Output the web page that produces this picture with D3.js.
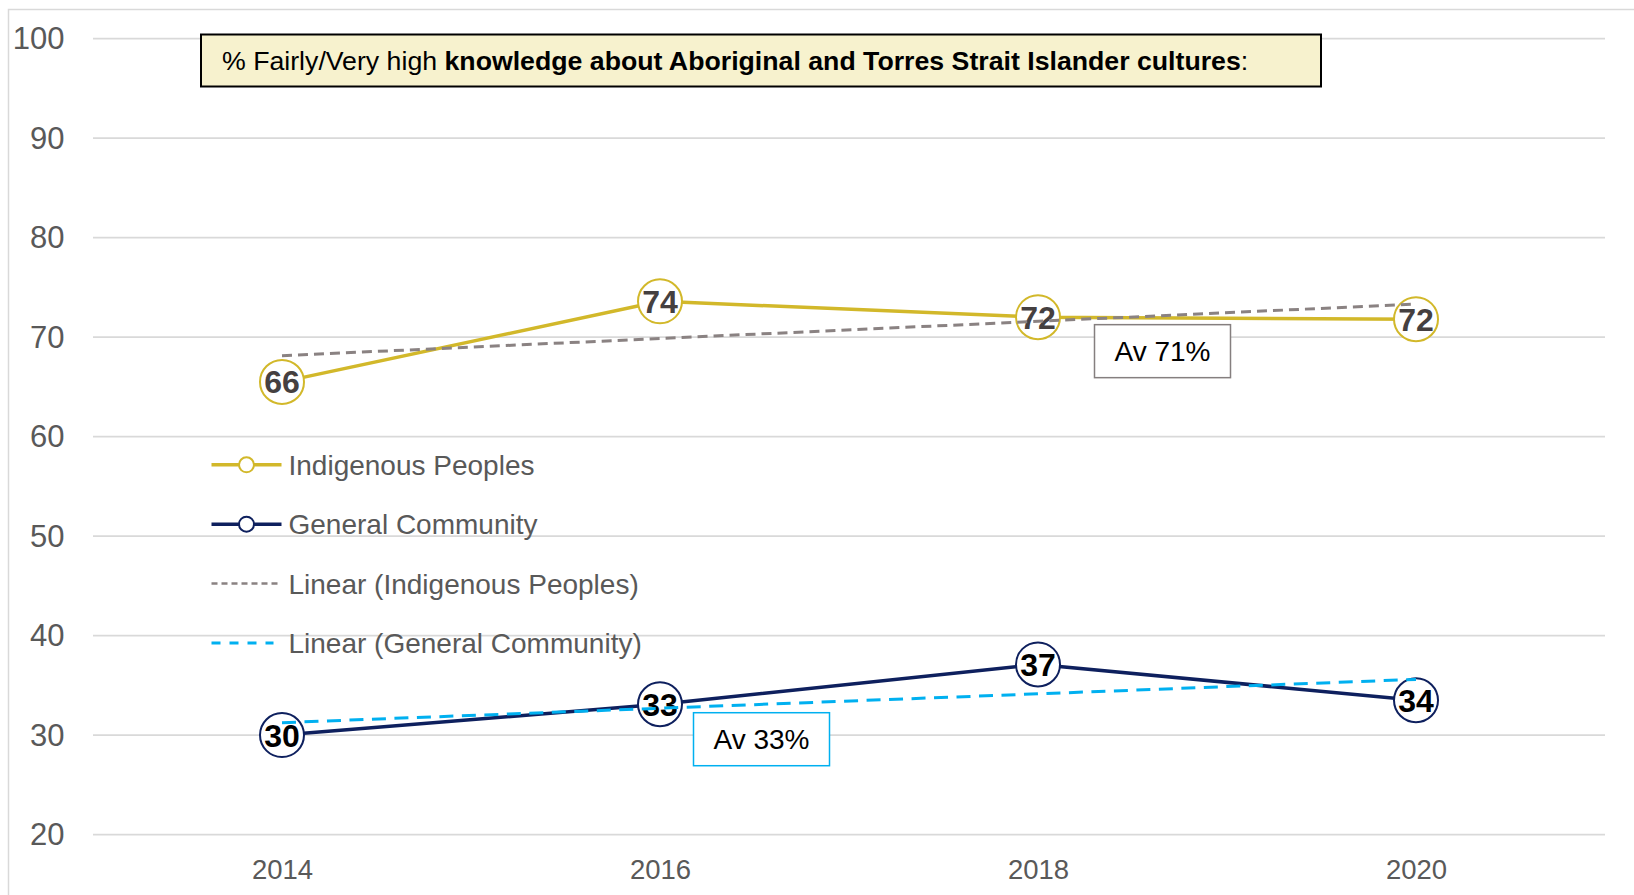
<!DOCTYPE html>
<html>
<head>
<meta charset="utf-8">
<script src="https://cdn.jsdelivr.net/npm/d3@7"></script>
<style>
  html, body { margin: 0; padding: 0; background: #fff; }
  svg { display: block; font-family: "Liberation Sans", Arial, sans-serif; }
</style>
</head>
<body>
<svg id="chart" width="1634" height="895"></svg>
<script>
// ---- data ----
const years = ["2014", "2016", "2018", "2020"];
const indigenous = [65.5, 73.6, 72.0, 71.8];
const general = [30.0, 33.1, 37.1, 33.5];
const indigenousLabels = ["66", "74", "72", "72"];
const generalLabels = ["30", "33", "37", "34"];
const yTicks = [20, 30, 40, 50, 60, 70, 80, 90, 100];
const legendNames = ["Indigenous Peoples", "General Community", "Linear (Indigenous Peoples)", "Linear (General Community)"];
const averageTexts = ["Av 71%", "Av 33%"];
const titleNormal = "% Fairly/Very high ";
const titleBold = "knowledge about Aboriginal and Torres Strait Islander cultures";
const titleEnd = ":";

// ---- styles ----
const GOLD = "#D2B82A", NAVY = "#0E205E", TGRAY = "#8A8282", TBLUE = "#00B0F0";
const GRID = "#D9D9D9", TXT = "#595959";

const svg = d3.select("#chart");

// outer border
svg.append("rect").attr("x", 8.5).attr("y", 9.5).attr("width", 1700).attr("height", 1000)
  .attr("fill", "none").attr("stroke", GRID).attr("stroke-width", 1.5);

const x = d3.scalePoint().domain(years).range([93, 1605]).padding(0.5);
const y = d3.scaleLinear().domain([20, 100]).range([834.6, 38.6]);

// gridlines
svg.append("g").selectAll("line").data(yTicks).join("line")
  .attr("x1", 93).attr("x2", 1605)
  .attr("y1", d => y(d)).attr("y2", d => y(d))
  .attr("stroke", GRID).attr("stroke-width", 1.6);

// y axis labels
const yAxis = svg.append("g").attr("transform", "translate(64.5,0)")
  .call(d3.axisLeft(y).tickValues(yTicks).tickSize(0).tickPadding(0));
yAxis.select(".domain").remove();
yAxis.selectAll("text").attr("font-size", 31).attr("fill", TXT)
  .attr("font-family", "Liberation Sans, Arial, sans-serif");

// x axis labels
const xAxis = svg.append("g").attr("transform", "translate(0,859)")
  .call(d3.axisBottom(x).tickSize(0).tickPadding(0));
xAxis.select(".domain").remove();
xAxis.selectAll("text").attr("font-size", 27.5).attr("fill", TXT)
  .attr("font-family", "Liberation Sans, Arial, sans-serif");

// title box
const tg = svg.append("g");
tg.append("rect").attr("x", 201).attr("y", 34.5).attr("width", 1120).attr("height", 52)
  .attr("fill", "#F7F2CE").attr("stroke", "#000").attr("stroke-width", 2);
const tt = tg.append("text").attr("x", 222).attr("y", 70).attr("font-size", 26.7).attr("fill", "#000");
tt.append("tspan").text(titleNormal);
tt.append("tspan").attr("font-weight", "bold").text(titleBold);
tt.append("tspan").text(titleEnd);

// regression (Excel linear trendline)
function trend(vals) {
  const n = vals.length, xs = d3.range(n);
  const mx = d3.mean(xs), my = d3.mean(vals);
  const b = d3.sum(xs, (xi, i) => (xi - mx) * (vals[i] - my)) / d3.sum(xs, xi => (xi - mx) ** 2);
  const a = my - b * mx;
  return [a, a + b * (n - 1)];
}

const line = d3.line().x((d, i) => x(years[i])).y(d => y(d));

// main lines
svg.append("path").datum(indigenous).attr("d", line).attr("fill", "none")
  .attr("stroke", GOLD).attr("stroke-width", 3.5).attr("stroke-linejoin", "round");
svg.append("path").datum(general).attr("d", line).attr("fill", "none")
  .attr("stroke", NAVY).attr("stroke-width", 3.5).attr("stroke-linejoin", "round");

// markers + labels
function markers(vals, labels, color, txtColor, fs) {
  const g = svg.append("g");
  g.selectAll("circle").data(vals).join("circle")
    .attr("cx", (d, i) => x(years[i])).attr("cy", d => y(d)).attr("r", 22)
    .attr("fill", "#fff").attr("stroke", color).attr("stroke-width", 2);
  g.selectAll("text").data(vals).join("text")
    .attr("x", (d, i) => x(years[i])).attr("y", d => y(d)).attr("dy", "0.36em")
    .attr("text-anchor", "middle").attr("font-size", fs).attr("font-weight", "bold")
    .attr("fill", txtColor).text((d, i) => labels[i]);
}
markers(indigenous, indigenousLabels, GOLD, "#454040", 32);
markers(general, generalLabels, NAVY, "#000", 32);

// trend lines (on top)
const tI = trend(indigenous), tG = trend(general);
svg.append("line").attr("x1", x(years[0])).attr("x2", x(years[3]))
  .attr("y1", y(tI[0])).attr("y2", y(tI[1]))
  .attr("stroke", TGRAY).attr("stroke-width", 3).attr("stroke-dasharray", "10,6");
svg.append("line").attr("x1", x(years[0])).attr("x2", x(years[3]))
  .attr("y1", y(tG[0])).attr("y2", y(tG[1]))
  .attr("stroke", TBLUE).attr("stroke-width", 3).attr("stroke-dasharray", "14,8.5");

// average boxes
function avBox(cx, topVal, txt, stroke) {
  const g = svg.append("g");
  const top = y(topVal);
  g.append("rect").attr("x", cx - 68).attr("y", top).attr("width", 136).attr("height", 53)
    .attr("fill", "#fff").attr("stroke", stroke).attr("stroke-width", 1.5);
  g.append("text").attr("x", cx).attr("y", top + 26.5).attr("dy", "0.36em")
    .attr("text-anchor", "middle").attr("font-size", 28).attr("fill", "#000").text(txt);
}
avBox(x("2018") + 124.5, 71.25, averageTexts[0], "#857F7F");
avBox(x("2016") + 101.5, 32.25, averageTexts[1], TBLUE);

// legend
const lg = svg.append("g");
const rowsY = [464.8, 524.2, 583.6, 643];
const lx1 = 211.5, lx2 = 281.5;
// Indigenous
lg.append("line").attr("x1", lx1).attr("x2", lx2).attr("y1", rowsY[0]).attr("y2", rowsY[0])
  .attr("stroke", GOLD).attr("stroke-width", 3.5);
lg.append("circle").attr("cx", (lx1 + lx2) / 2).attr("cy", rowsY[0]).attr("r", 7.5)
  .attr("fill", "#fff").attr("stroke", GOLD).attr("stroke-width", 2);
// General
lg.append("line").attr("x1", lx1).attr("x2", lx2).attr("y1", rowsY[1]).attr("y2", rowsY[1])
  .attr("stroke", NAVY).attr("stroke-width", 3.5);
lg.append("circle").attr("cx", (lx1 + lx2) / 2).attr("cy", rowsY[1]).attr("r", 7.5)
  .attr("fill", "#fff").attr("stroke", NAVY).attr("stroke-width", 2);
// trends
lg.append("line").attr("x1", lx1).attr("x2", lx2).attr("y1", rowsY[2]).attr("y2", rowsY[2])
  .attr("stroke", TGRAY).attr("stroke-width", 2.5).attr("stroke-dasharray", "6,4");
lg.append("line").attr("x1", lx1).attr("x2", lx2 - 8).attr("y1", rowsY[3]).attr("y2", rowsY[3])
  .attr("stroke", TBLUE).attr("stroke-width", 3).attr("stroke-dasharray", "9,9");
lg.selectAll("text.leg").data(legendNames).join("text").attr("class", "leg")
  .attr("x", 288.5).attr("y", (d, i) => rowsY[i]).attr("dy", "0.36em")
  .attr("font-size", 28).attr("fill", TXT).text(d => d);
</script>
</body>
</html>
